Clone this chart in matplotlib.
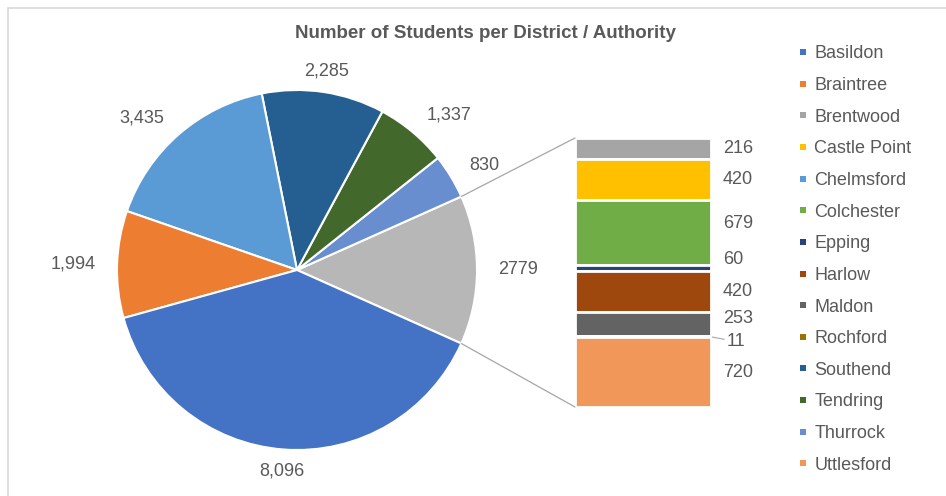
import matplotlib
matplotlib.use("Agg")
import matplotlib.pyplot as plt
from matplotlib.patches import ConnectionPatch, Rectangle
from matplotlib.lines import Line2D
import numpy as np

plt.rcParams.update({"font.family": ["Liberation Sans", "DejaVu Sans"], "font.size": 13})

TEXT = "#595959"
W, H = 946, 496

# slices of the pie, counter-clockwise after the "other" slice
pie_names = ["Thurrock", "Tendring", "Southend", "Chelmsford", "Braintree", "Basildon"]
pie_values = [830, 1337, 2285, 3435, 1994, 8096]
pie_labels = ["830", "1,337", "2,285", "3,435", "1,994", "8,096"]

# districts that make up the stacked bar, top to bottom
bar_names = ["Brentwood", "Castle Point", "Colchester", "Epping", "Harlow", "Maldon", "Rochford", "Uttlesford"]
bar_values = [216, 420, 679, 60, 420, 253, 11, 720]

legend_names = ["Basildon", "Braintree", "Brentwood", "Castle Point", "Chelmsford", "Colchester",
                "Epping", "Harlow", "Maldon", "Rochford", "Southend", "Tendring", "Thurrock", "Uttlesford"]
colors = {
    "Basildon": "#4472C4", "Braintree": "#ED7D31", "Brentwood": "#A5A5A5", "Castle Point": "#FFC000",
    "Chelmsford": "#5B9BD5", "Colchester": "#70AD47", "Epping": "#264478", "Harlow": "#9E480E",
    "Maldon": "#636363", "Rochford": "#997300", "Southend": "#255E91", "Tendring": "#43682B",
    "Thurrock": "#698ED0", "Uttlesford": "#F1975A",
}
other_color = "#B7B7B7"

# small vertical nudges (points) for crowded bar labels
label_nudge = {"Colchester": 6.5, "Epping": 6, "Maldon": 4, "Rochford": -3.5}

fig = plt.figure(figsize=(W / 100, H / 100), dpi=100)

# chart border
fig.add_artist(Rectangle((8 / W, -0.05), 1.0, 488 / H + 0.05, transform=fig.transFigure,
                         fill=False, ec="#D9D9D9", lw=1.2))

fig.text(485 / W, 1 - 33 / H, "Number of Students per District / Authority", ha="center", va="center",
         fontsize=13.5, fontweight="bold", color=TEXT)

# pie
other = sum(bar_values)
total = other + sum(pie_values)
half = other / total * 180
ax = fig.add_axes([117 / W, 46 / H, 360 / W, 360 / H])
wedges, texts = ax.pie([other] + pie_values,
                       labels=[str(other)] + pie_labels,
                       colors=[other_color] + [colors[n] for n in pie_names],
                       startangle=-half, counterclock=True, labeldistance=1.12,
                       wedgeprops={"edgecolor": "white", "linewidth": 1.5},
                       textprops={"color": TEXT, "fontsize": 13})
for t in texts:
    x, y = t.get_position()
    if abs(x) < 0.3 * 1.12:
        t.set_ha("center")
ax.set_xlim(-1, 1)
ax.set_ylim(-1, 1)
ax.set_aspect("equal")
ax.axis("off")

# stacked bar
ax2 = fig.add_axes([575 / W, 89 / H, 136 / W, 269 / H])
top = other
for name, v in zip(bar_names, bar_values):
    bottom = top - v
    ax2.bar(0, v, bottom=bottom, width=1, color=colors[name], edgecolor="white", linewidth=2)
    dy = label_nudge.get(name, 0)
    if name == "Rochford":
        ax2.annotate(str(v), xy=(0.5, bottom + v / 2), xytext=(11.5, dy), textcoords="offset points",
                     ha="left", va="center", color=TEXT, fontsize=13, annotation_clip=False,
                     arrowprops={"arrowstyle": "-", "color": "#A6A6A6", "lw": 0.8,
                                 "shrinkA": 0, "shrinkB": 1})
    else:
        ax2.annotate(str(v), xy=(0.5, bottom + v / 2), xytext=(8.6, dy), textcoords="offset points",
                     ha="left", va="center", color=TEXT, fontsize=13, annotation_clip=False)
    top = bottom
ax2.set_xlim(-0.5, 0.5)
ax2.set_ylim(0, other)
ax2.axis("off")

# connector lines from the "other" slice to the bar
a = np.deg2rad(half)
for sign, yb in [(1, 1), (-1, 0)]:
    con = ConnectionPatch(xyA=(np.cos(a), sign * np.sin(a)), coordsA="data", axesA=ax,
                          xyB=(0, yb), coordsB="axes fraction", axesB=ax2,
                          color="#A6A6A6", lw=0.9)
    fig.add_artist(con)

# legend
handles = [Line2D([], [], marker="s", ls="none", markersize=5, markeredgewidth=0, color=colors[n])
           for n in legend_names]
fig.legend(handles, legend_names, loc="upper left", bbox_to_anchor=(798 / W, 1 - 45.5 / H),
           frameon=False, borderpad=0, borderaxespad=0, handlelength=0.6, handletextpad=0.3,
           labelspacing=0.81, labelcolor=TEXT, fontsize=13)

plt.savefig("out.png", dpi=100)
